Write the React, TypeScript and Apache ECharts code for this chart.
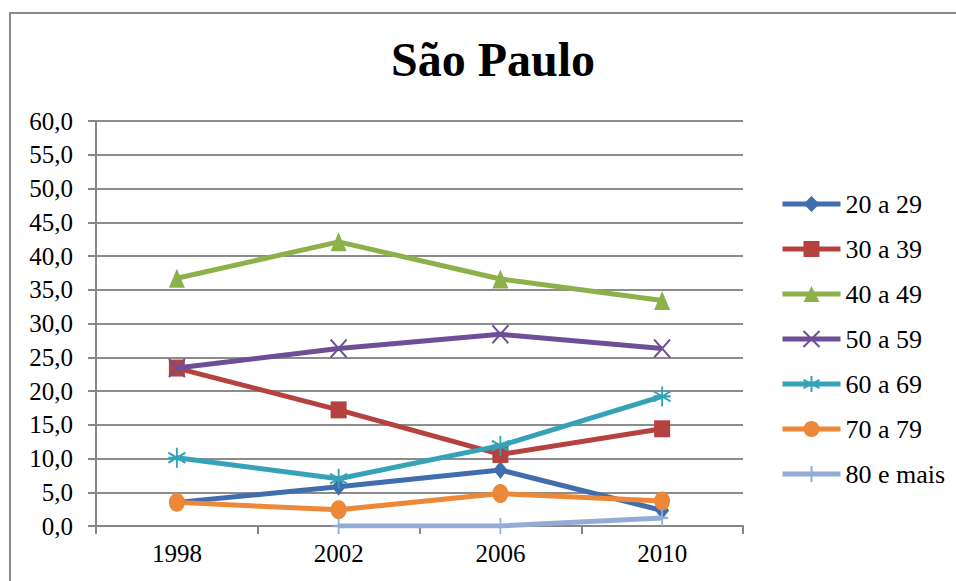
import React, { useEffect, useRef } from "react";
import * as echarts from "echarts";

const title = "São Paulo";
const years = ["1998", "2002", "2006", "2010"];
const seriesNames = ["20 a 29", "30 a 39", "40 a 49", "50 a 59", "60 a 69", "70 a 79", "80 e mais"];
const s20 = [3.5, 5.8, 8.3, 2.3];
const s30 = [23.4, 17.2, 10.6, 14.4];
const s40 = [36.7, 42.1, 36.6, 33.4];
const s50 = [23.4, 26.3, 28.4, 26.3];
const s60 = [10.1, 7.0, 11.9, 19.2];
const s70 = [3.5, 2.4, 4.8, 3.7];
const s80 = [null, 0, 0, 1.2];
const values = [s20, s30, s40, s50, s60, s70, s80];

const colors = ["#3F6DAD", "#B5423F", "#8CB04A", "#6E4E96", "#36A2B8", "#EC8838", "#93ACD6"];
const symbols = [
  "diamond",
  "rect",
  "triangle",
  "path://M0,0L10,10M10,0L0,10",
  "path://M5,0L5,10M0,2.5L10,7.5M0,7.5L10,2.5M0,5L10,5",
  "circle",
  "path://M5,0L5,10M0,5L10,5",
];
const symbolSizes = [[14, 18], [16, 17], [16, 19], [16, 18], [17, 20], [16, 19], [12, 16]];
const strokeSymbols = [false, false, false, true, true, false, true];

const FONT = "Liberation Serif";

export default function App() {
  const ref = useRef<HTMLDivElement>(null);
  useEffect(() => {
    if (!ref.current) return;
    const chart = echarts.init(ref.current, undefined, { renderer: "svg" });
    chart.setOption({
      animation: false,
      backgroundColor: "#ffffff",
      title: {
        text: title,
        left: 488,
        top: 30,
        textAlign: "center",
        textStyle: { fontFamily: FONT, fontSize: 48, fontWeight: "bold", color: "#000" },
      },
      graphic: [
        {
          type: "rect",
          shape: { x: 10, y: 13, width: 1000, height: 1000 },
          style: { fill: "none", stroke: "#8a8a8a", lineWidth: 2 },
          silent: true,
        },
      ],
      legend: {
        orient: "vertical",
        left: 780,
        top: 191,
        padding: 0,
        itemWidth: 58,
        itemHeight: 20,
        itemGap: 19,
        lineStyle: { width: 5 },
        textStyle: { fontFamily: FONT, fontSize: 26, color: "#000" },
        data: seriesNames,
      },
      grid: { left: 96, top: 121, right: 213, bottom: 55, containLabel: false },
      xAxis: {
        type: "category",
        data: years,
        boundaryGap: true,
        axisLine: { lineStyle: { color: "#868686", width: 2 } },
        axisTick: { show: true, length: 8, lineStyle: { color: "#868686", width: 2 } },
        axisLabel: { fontFamily: FONT, fontSize: 25, color: "#000", margin: 15 },
      },
      yAxis: {
        type: "value",
        min: 0,
        max: 60,
        interval: 5,
        axisLine: { show: true, lineStyle: { color: "#868686", width: 2 } },
        axisTick: { show: true, length: 8, lineStyle: { color: "#868686", width: 2 } },
        splitLine: { show: true, lineStyle: { color: "#8c8c8c", width: 2 } },
        axisLabel: {
          fontFamily: FONT,
          fontSize: 25,
          color: "#000",
          margin: 23,
          formatter: (v: number) => v.toFixed(1).replace(".", ","),
        },
      },
      series: seriesNames.map((name, i) => ({
        name,
        type: "line",
        data: values[i],
        color: colors[i],
        symbol: symbols[i],
        symbolSize: symbolSizes[i],
        showAllSymbol: true,
        connectNulls: false,
        lineStyle: { width: 5, color: colors[i] },
        itemStyle: strokeSymbols[i]
          ? { color: colors[i], borderColor: colors[i], borderWidth: 2 }
          : { color: colors[i], borderWidth: 0 },
        z: 2 + i,
      })),
    });
    return () => chart.dispose();
  }, []);
  return (
    <div
      ref={ref}
      style={{ position: "fixed", left: 0, top: 0, width: 956, height: 581 }}
    />
  );
}
